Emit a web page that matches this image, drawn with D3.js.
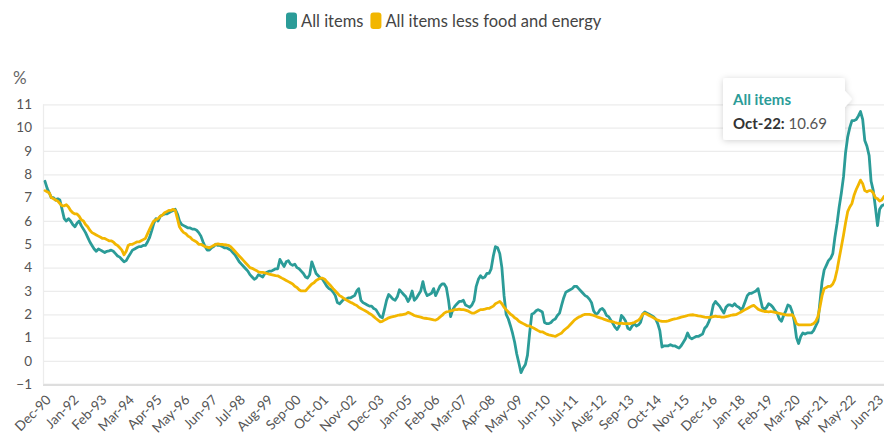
<!DOCTYPE html>
<html>
<head>
<meta charset="utf-8">
<script src="https://cdn.jsdelivr.net/npm/d3@7"></script>
<style>
  html, body { margin: 0; padding: 0; background: #fff; }
  svg { display: block; font-family: Lato, "Noto Sans", sans-serif; }
</style>
</head>
<body>
<svg id="chart" width="884" height="438"></svg>
<script>
// ---------------- DATA ----------------
const seriesNames = ["All items", "All items less food and energy"];
const startMonth = "Dec-90";   // first observation, monthly thereafter

// All items, % y/y, Dec-90 .. Sep-23
const allItems = [
  7.7,
  7.4, 7.2, 7.0, 7.0, 6.9, 6.95, 6.9, 6.5, 6.1, 6.0, 6.1, 6.0,          // 1991
  5.85, 5.75, 5.9, 6.0, 5.8, 5.65, 5.5, 5.3, 5.1, 4.95, 4.8, 4.7,       // 1992
  4.8, 4.75, 4.7, 4.65, 4.7, 4.72, 4.75, 4.7, 4.6, 4.5, 4.45, 4.35,     // 1993
  4.25, 4.3, 4.45, 4.6, 4.75, 4.8, 4.85, 4.9, 4.9, 4.95, 4.95, 5.1,     // 1994
  5.3, 5.6, 5.9, 6.1, 6.0, 6.2, 6.25, 6.3, 6.3, 6.35, 6.4, 6.45,        // 1995
  6.5, 6.3, 6.0, 5.85, 5.8, 5.75, 5.7, 5.7, 5.65, 5.65, 5.6, 5.5,       // 1996
  5.35, 5.1, 4.9, 4.75, 4.75, 4.85, 4.9, 5.0, 4.95, 4.95, 4.9, 4.85,    // 1997
  4.85, 4.8, 4.75, 4.65, 4.55, 4.4, 4.25, 4.15, 4.05, 3.95, 3.85, 3.7,  // 1998
  3.6, 3.5, 3.55, 3.7, 3.65, 3.6, 3.75, 3.8, 3.85, 3.85, 3.9, 3.95,     // 1999
  3.95, 4.35, 4.2, 4.05, 4.25, 4.3, 4.15, 4.1, 4.15, 4.0, 3.95, 3.85,   // 2000
  3.75, 3.6, 3.55, 3.7, 4.25, 4.0, 3.75, 3.65, 3.55, 3.5, 3.35, 3.2,    // 2001
  3.1, 3.05, 2.95, 2.8, 2.5, 2.45, 2.55, 2.65, 2.65, 2.7, 2.7, 2.75,    // 2002
  2.8, 3.0, 3.1, 2.6, 2.5, 2.45, 2.4, 2.35, 2.35, 2.25, 2.2, 2.05,      // 2003
  1.9, 1.85, 2.2, 2.6, 2.85, 2.75, 2.65, 2.6, 2.75, 3.05, 2.95, 2.85,   // 2004
  2.75, 2.55, 2.7, 3.0, 2.6, 2.7, 2.85, 3.0, 3.4, 3.0, 2.8, 2.85,       // 2005
  2.9, 3.1, 2.8, 3.0, 3.2, 3.3, 3.3, 3.15, 2.6, 1.9, 2.2, 2.35,         // 2006
  2.45, 2.55, 2.55, 2.6, 2.4, 2.35, 2.3, 2.4, 2.6, 3.2, 3.5, 3.65,      // 2007
  3.55, 3.6, 3.75, 3.75, 3.95, 4.5, 4.9, 4.85, 4.6, 4.0, 2.8, 2.0,      // 2008
  1.8, 1.5, 1.2, 0.8, 0.3, -0.1, -0.5, -0.3, -0.15, 0.25, 1.2, 2.0,     // 2009
  2.05, 2.15, 2.2, 2.15, 2.1, 1.65, 1.6, 1.6, 1.65, 1.75, 1.8, 1.95,    // 2010
  2.05, 2.4, 2.7, 2.95, 3.0, 3.05, 3.1, 3.2, 3.2, 3.1, 3.0, 2.9,        // 2011
  2.8, 2.75, 2.65, 2.5, 2.15, 2.0, 2.05, 2.2, 2.25, 2.15, 1.95, 1.9,    // 2012
  1.75, 1.6, 1.45, 1.35, 1.5, 1.95, 1.85, 1.7, 1.4, 1.35, 1.5, 1.6,     // 2013
  1.5, 1.55, 1.65, 2.0, 2.1, 2.05, 2.0, 1.95, 1.9, 1.8, 1.6, 1.3,       // 2014
  0.6, 0.65, 0.65, 0.65, 0.7, 0.65, 0.65, 0.6, 0.55, 0.65, 0.8, 0.95,   // 2015
  1.2, 1.0, 0.95, 1.0, 1.05, 1.05, 1.1, 1.15, 1.4, 1.5, 1.7, 1.95,      // 2016
  2.4, 2.55, 2.45, 2.35, 2.2, 2.05, 2.3, 2.4, 2.4, 2.35, 2.45, 2.35,    // 2017
  2.3, 2.2, 2.3, 2.55, 2.8, 2.9, 2.9, 2.95, 3.0, 3.1, 2.7, 2.3,         // 2018
  2.2, 2.3, 2.45, 2.4, 2.3, 2.15, 2.05, 1.8, 1.7, 1.95, 2.15, 2.4,      // 2019
  2.35, 2.1, 1.7, 1.0, 0.75, 1.05, 1.2, 1.15, 1.2, 1.2, 1.2, 1.3,       // 2020
  1.5, 1.7, 2.5, 3.4, 3.9, 4.1, 4.3, 4.4, 4.6, 5.3, 5.9, 6.6,           // 2021
  7.2, 7.9, 8.9, 9.6, 10.0, 10.3, 10.3, 10.35, 10.5, 10.69, 10.35, 9.45, // 2022
  9.2, 8.8, 7.7, 7.3, 6.6, 5.8, 6.5, 6.65, 6.7                          // 2023
];

// All items less food and energy, % y/y, Dec-90 .. Sep-23
const coreItems = [
  7.3,
  7.25, 7.2, 7.0, 6.95, 6.9, 6.85, 6.75, 6.65, 6.65, 6.7, 6.6, 6.45,    // 1991
  6.35, 6.3, 6.3, 6.2, 6.05, 6.0, 5.85, 5.75, 5.6, 5.5, 5.45, 5.4,      // 1992
  5.35, 5.3, 5.25, 5.25, 5.2, 5.15, 5.15, 5.1, 5.0, 4.95, 4.85, 4.75,   // 1993
  4.55, 4.7, 4.95, 5.0, 5.0, 5.05, 5.1, 5.1, 5.15, 5.2, 5.25, 5.45,     // 1994
  5.65, 5.85, 6.0, 6.05, 6.1, 6.2, 6.25, 6.35, 6.4, 6.45, 6.45, 6.5,    // 1995
  6.45, 6.1, 5.75, 5.6, 5.5, 5.45, 5.35, 5.3, 5.2, 5.15, 5.1, 5.0,      // 1996
  5.0, 4.95, 4.9, 4.88, 4.85, 4.9, 4.95, 5.0, 5.02, 5.0, 5.0, 4.98,     // 1997
  4.97, 4.95, 4.9, 4.8, 4.7, 4.6, 4.5, 4.4, 4.3, 4.2, 4.1, 4.0,         // 1998
  3.97, 3.92, 3.88, 3.82, 3.8, 3.8, 3.78, 3.75, 3.72, 3.7, 3.68, 3.66,  // 1999
  3.65, 3.6, 3.55, 3.5, 3.45, 3.4, 3.35, 3.3, 3.2, 3.15, 3.05, 3.0,     // 2000
  3.0, 3.0, 3.1, 3.2, 3.3, 3.35, 3.45, 3.5, 3.55, 3.55, 3.5, 3.4,       // 2001
  3.3, 3.2, 3.1, 3.0, 2.9, 2.8, 2.75, 2.68, 2.62, 2.57, 2.52, 2.48,     // 2002
  2.42, 2.38, 2.3, 2.25, 2.2, 2.15, 2.1, 2.03, 1.98, 1.9, 1.82, 1.75,   // 2003
  1.68, 1.7, 1.75, 1.8, 1.85, 1.88, 1.9, 1.92, 1.95, 1.97, 1.98, 2.0,   // 2004
  2.02, 2.08, 2.05, 2.0, 1.95, 1.92, 1.9, 1.88, 1.85, 1.83, 1.82, 1.8,  // 2005
  1.78, 1.76, 1.75, 1.8, 1.88, 1.95, 2.05, 2.1, 2.12, 2.15, 2.17, 2.2,  // 2006
  2.2, 2.22, 2.2, 2.2, 2.18, 2.15, 2.1, 2.05, 2.05, 2.1, 2.15, 2.2,     // 2007
  2.2, 2.22, 2.25, 2.25, 2.3, 2.35, 2.45, 2.5, 2.55, 2.45, 2.3, 2.2,    // 2008
  2.1, 2.0, 1.95, 1.85, 1.8, 1.7, 1.65, 1.6, 1.55, 1.5, 1.5, 1.45,      // 2009
  1.4, 1.35, 1.3, 1.25, 1.25, 1.2, 1.15, 1.12, 1.1, 1.08, 1.05, 1.1,    // 2010
  1.15, 1.2, 1.3, 1.38, 1.45, 1.55, 1.65, 1.75, 1.82, 1.88, 1.92, 1.97, // 2011
  2.0, 2.0, 2.0, 1.98, 1.95, 1.92, 1.88, 1.85, 1.82, 1.78, 1.75, 1.72,  // 2012
  1.7, 1.68, 1.65, 1.62, 1.6, 1.62, 1.6, 1.6, 1.6, 1.6, 1.62, 1.65,     // 2013
  1.7, 1.75, 1.85, 2.0, 2.05, 2.0, 1.95, 1.9, 1.85, 1.8, 1.75, 1.72,    // 2014
  1.7, 1.7, 1.7, 1.72, 1.75, 1.78, 1.8, 1.82, 1.85, 1.88, 1.9, 1.92,    // 2015
  1.95, 1.97, 1.98, 1.97, 1.95, 1.93, 1.92, 1.9, 1.88, 1.87, 1.87, 1.88,// 2016
  1.9, 1.92, 1.9, 1.9, 1.88, 1.88, 1.9, 1.92, 1.95, 1.97, 1.98, 2.0,    // 2017
  2.05, 2.1, 2.15, 2.2, 2.25, 2.3, 2.35, 2.38, 2.3, 2.22, 2.18, 2.15,   // 2018
  2.12, 2.12, 2.1, 2.12, 2.1, 2.08, 2.06, 2.04, 2.02, 2.0, 1.98, 1.97,  // 2019
  1.97, 1.98, 1.85, 1.6, 1.55, 1.55, 1.55, 1.55, 1.55, 1.55, 1.56, 1.6, // 2020
  1.7, 1.9, 2.3, 2.8, 3.1, 3.15, 3.2, 3.2, 3.3, 3.5, 3.9, 4.4,          // 2021
  4.9, 5.4, 5.9, 6.4, 6.6, 6.75, 7.1, 7.35, 7.55, 7.75, 7.6, 7.3,       // 2022
  7.25, 7.3, 7.3, 7.2, 7.0, 6.95, 6.85, 6.9, 7.05                       // 2023
];

const xTickLabels = ["Dec-90","Jan-92","Feb-93","Mar-94","Apr-95","May-96","Jun-97","Jul-98",
  "Aug-99","Sep-00","Oct-01","Nov-02","Dec-03","Jan-05","Feb-06","Mar-07","Apr-08","May-09",
  "Jun-10","Jul-11","Aug-12","Sep-13","Oct-14","Nov-15","Dec-16","Jan-18","Feb-19","Mar-20",
  "Apr-21","May-22","Jun-23"];
const yTickValues = [-1, 0, 1, 2, 3, 4, 5, 6, 7, 8, 9, 10, 11];
const tooltipMonth = "Oct-22";

// ---------------- DRAWING ----------------
(function draw() {
  const colors = ["#2b9c98", "#f2b600"];
  const parse = d3.timeParse("%b-%y");
  const fmt = d3.timeFormat("%b-%y");
  const start = parse(startMonth);
  const dates = allItems.map((_, i) => d3.timeMonth.offset(start, i));

  const svg = d3.select("#chart");
  const plotL = 45, plotR = 884, plotT = 104.3, plotB = 384.3;

  const x = d3.scaleTime().domain([dates[0], dates[dates.length - 1]]).range([plotL, plotR]);
  const y = d3.scaleLinear().domain([-1, 11]).range([plotB, plotT]);

  const defs = svg.append("defs");
  const f = defs.append("filter").attr("id", "shadow").attr("x", "-20%").attr("y", "-30%")
    .attr("width", "140%").attr("height", "160%");
  f.append("feDropShadow").attr("dx", 0).attr("dy", 1).attr("stdDeviation", 3)
    .attr("flood-color", "#000").attr("flood-opacity", 0.18);

  // Y grid + labels
  const yAxis = d3.axisLeft(y).tickValues(yTickValues).tickSize(-(plotR - 43)).tickFormat(d3.format("d"));
  const gy = svg.append("g").attr("transform", "translate(43,0)").call(yAxis);
  gy.select(".domain").remove();
  gy.selectAll(".tick line").attr("stroke", d => d === -1 ? "#dedede" : "#ececec")
    .attr("stroke-width", d => d === -1 ? 2.2 : 1.2);
  gy.selectAll(".tick text").attr("x", -11).attr("fill", "#555").style("font-size", "13.5px")
    .style("font-family", "Lato, sans-serif");

  svg.append("line").attr("x1", 43.5).attr("x2", 43.5).attr("y1", y(11)).attr("y2", y(-1))
    .attr("stroke", "#ececec").attr("stroke-width", 1.2);

  svg.append("text").attr("x", 13).attr("y", 84).text("%")
    .attr("fill", "#666").style("font-size", "17px");

  // X axis labels
  const xAxis = d3.axisBottom(x).tickValues(xTickLabels.map(parse)).tickSize(0).tickFormat(fmt);
  const gx = svg.append("g").attr("transform", `translate(0,${plotB})`).call(xAxis);
  gx.select(".domain").remove();
  gx.selectAll(".tick text")
    .attr("x", 0).attr("y", 0).attr("dy", "0.35em")
    .attr("transform", "translate(3,13) rotate(-45)")
    .style("text-anchor", "end").attr("fill", "#555")
    .style("font-size", "13.5px").style("font-family", "Lato, sans-serif");

  // Lines
  const seriesData = [allItems, coreItems];
  const line = d3.line().x((d, i) => x(dates[i])).y(d => y(d));
  seriesData.forEach((vals, k) => {
    svg.append("path").datum(vals).attr("d", line)
      .attr("fill", "none").attr("stroke", colors[k]).attr("stroke-width", 2.8)
      .attr("stroke-linejoin", "round").attr("stroke-linecap", "round");
  });

  // Legend
  const legend = svg.append("g");
  let lx = 286;
  seriesNames.forEach((name, k) => {
    legend.append("rect").attr("x", lx).attr("y", 12.5).attr("width", 11).attr("height", 16.5)
      .attr("rx", 3).attr("fill", colors[k]);
    const t = legend.append("text").attr("x", lx + 15).attr("y", 27).text(name)
      .attr("fill", "#444").style("font-size", "16.5px").style("font-family", "Lato, sans-serif");
    lx += 15 + t.node().getComputedTextLength() + 7;
  });

  // Tooltip
  const ti = dates.findIndex(d => fmt(d) === tooltipMonth);
  const bx = 723, by = 78, bw = 122, bh = 62;
  const tip = svg.append("g");
  tip.append("path")
    .attr("d", `M${bx + 3},${by} H${bx + bw - 3} Q${bx + bw},${by} ${bx + bw},${by + 3} V${by + 13}
       L${bx + bw + 7},${by + 21} L${bx + bw},${by + 29} V${by + bh - 3} Q${bx + bw},${by + bh} ${bx + bw - 3},${by + bh}
       H${bx + 3} Q${bx},${by + bh} ${bx},${by + bh - 3} V${by + 3} Q${bx},${by} ${bx + 3},${by} Z`)
    .attr("fill", "#fff").attr("filter", "url(#shadow)");
  tip.append("text").attr("x", bx + 10).attr("y", by + 27).text(seriesNames[0])
    .attr("fill", colors[0]).style("font-weight", "bold").style("font-size", "15px");
  const vt = tip.append("text").attr("x", bx + 10).attr("y", by + 51).style("font-size", "15px");
  vt.append("tspan").text(fmt(dates[ti]) + ":").attr("fill", "#333").style("font-weight", "bold");
  vt.append("tspan").text(" " + allItems[ti].toFixed(2)).attr("fill", "#555");
})();
</script>
</body>
</html>
